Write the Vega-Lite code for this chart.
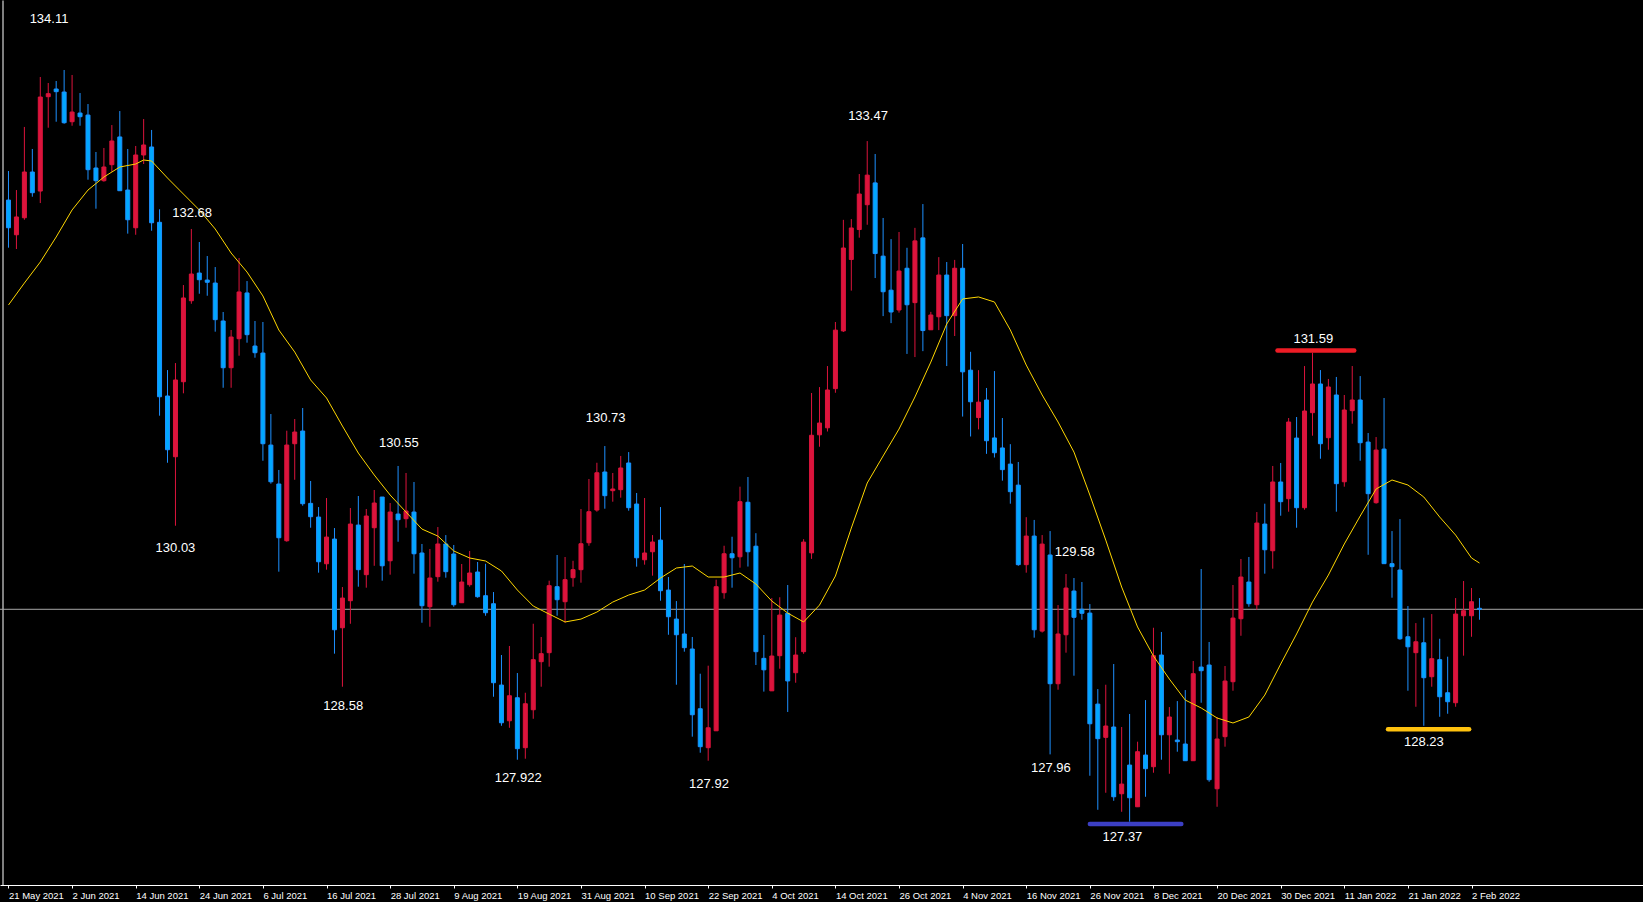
{
"$schema": "https://vega.github.io/schema/vega-lite/v6.json",
"width": 1643, "height": 885,
"autosize": {"type": "none"},
"padding": {"left": 0, "top": 0, "right": 0, "bottom": 17},
"background": "#000000",
"config": {"view": {"stroke": null},
"axisX": {"grid": false, "domainColor": "#FFFFFF", "domainWidth": 1, "tickColor": "#FFFFFF", "tickSize": 3, "tickWidth": 1,
"labelColor": "#FFFFFF", "labelFont": "Liberation Sans", "labelFontSize": 9.5, "labelAlign": "left", "labelBaseline": "top",
"labelPadding": 2, "labelOverlap": false, "labelFlush": false, "labelBound": false},
"axisY": {"labels": false, "ticks": false, "grid": false, "domain": true, "domainColor": "#FFFFFF", "domainWidth": 1}
},
"datasets": {
"candles": [
{"i":0,"d":"2021-05-21","o":132.960,"h":133.221,"l":132.532,"c":132.711},
{"i":1,"d":"2021-05-24","o":132.648,"h":133.050,"l":132.520,"c":132.808},
{"i":2,"d":"2021-05-25","o":132.801,"h":133.617,"l":132.783,"c":133.212},
{"i":3,"d":"2021-05-26","o":133.212,"h":133.419,"l":132.990,"c":133.026},
{"i":4,"d":"2021-05-27","o":133.041,"h":134.066,"l":132.933,"c":133.886},
{"i":5,"d":"2021-05-28","o":133.889,"h":134.012,"l":133.610,"c":133.916},
{"i":6,"d":"2021-05-31","o":133.958,"h":134.030,"l":133.664,"c":133.934},
{"i":7,"d":"2021-06-01","o":133.931,"h":134.129,"l":133.646,"c":133.655},
{"i":8,"d":"2021-06-02","o":133.664,"h":134.084,"l":133.628,"c":133.751},
{"i":9,"d":"2021-06-03","o":133.742,"h":133.922,"l":133.628,"c":133.709},
{"i":10,"d":"2021-06-04","o":133.724,"h":133.823,"l":133.143,"c":133.233},
{"i":11,"d":"2021-06-07","o":133.248,"h":133.392,"l":132.882,"c":133.134},
{"i":12,"d":"2021-06-08","o":133.134,"h":133.428,"l":133.125,"c":133.257},
{"i":13,"d":"2021-06-09","o":133.278,"h":133.634,"l":133.215,"c":133.491},
{"i":14,"d":"2021-06-10","o":133.527,"h":133.760,"l":133.044,"c":133.044},
{"i":15,"d":"2021-06-11","o":133.050,"h":133.419,"l":132.658,"c":132.783},
{"i":16,"d":"2021-06-14","o":132.711,"h":133.446,"l":132.648,"c":133.365},
{"i":17,"d":"2021-06-15","o":133.365,"h":133.688,"l":133.284,"c":133.455},
{"i":18,"d":"2021-06-16","o":133.437,"h":133.590,"l":132.684,"c":132.756},
{"i":19,"d":"2021-06-17","o":132.760,"h":132.877,"l":131.022,"c":131.192},
{"i":20,"d":"2021-06-18","o":131.199,"h":131.432,"l":130.599,"c":130.716},
{"i":21,"d":"2021-06-21","o":130.653,"h":131.495,"l":130.033,"c":131.343},
{"i":22,"d":"2021-06-22","o":131.327,"h":132.196,"l":131.223,"c":132.080},
{"i":23,"d":"2021-06-23","o":132.055,"h":132.700,"l":132.028,"c":132.295},
{"i":24,"d":"2021-06-24","o":132.304,"h":132.583,"l":132.118,"c":132.244},
{"i":25,"d":"2021-06-25","o":132.241,"h":132.457,"l":132.100,"c":132.221},
{"i":26,"d":"2021-06-28","o":132.214,"h":132.358,"l":131.777,"c":131.885},
{"i":27,"d":"2021-06-29","o":131.873,"h":131.954,"l":131.273,"c":131.453},
{"i":28,"d":"2021-06-30","o":131.453,"h":131.792,"l":131.273,"c":131.729},
{"i":29,"d":"2021-07-01","o":131.714,"h":132.439,"l":131.561,"c":132.134},
{"i":30,"d":"2021-07-02","o":132.125,"h":132.232,"l":131.678,"c":131.750},
{"i":31,"d":"2021-07-05","o":131.648,"h":131.873,"l":131.543,"c":131.588},
{"i":32,"d":"2021-07-06","o":131.585,"h":131.864,"l":130.617,"c":130.770},
{"i":33,"d":"2021-07-07","o":130.758,"h":131.037,"l":130.411,"c":130.428},
{"i":34,"d":"2021-07-08","o":130.408,"h":130.534,"l":129.620,"c":129.925},
{"i":35,"d":"2021-07-09","o":129.898,"h":130.887,"l":129.889,"c":130.758},
{"i":36,"d":"2021-07-12","o":130.770,"h":130.992,"l":130.446,"c":130.875},
{"i":37,"d":"2021-07-13","o":130.884,"h":131.091,"l":130.213,"c":130.231},
{"i":38,"d":"2021-07-14","o":130.234,"h":130.435,"l":130.015,"c":130.114},
{"i":39,"d":"2021-07-15","o":130.111,"h":130.201,"l":129.611,"c":129.709},
{"i":40,"d":"2021-07-16","o":129.691,"h":130.282,"l":129.638,"c":129.931},
{"i":41,"d":"2021-07-19","o":129.913,"h":130.012,"l":128.883,"c":129.098},
{"i":42,"d":"2021-07-20","o":129.116,"h":129.482,"l":128.586,"c":129.383},
{"i":43,"d":"2021-07-21","o":129.359,"h":130.192,"l":129.152,"c":130.048},
{"i":44,"d":"2021-07-22","o":130.039,"h":130.300,"l":129.485,"c":129.638},
{"i":45,"d":"2021-07-23","o":129.593,"h":130.183,"l":129.476,"c":130.120},
{"i":46,"d":"2021-07-26","o":130.015,"h":130.354,"l":129.673,"c":130.237},
{"i":47,"d":"2021-07-27","o":130.291,"h":130.291,"l":129.539,"c":129.673},
{"i":48,"d":"2021-07-28","o":129.718,"h":130.237,"l":129.593,"c":130.156},
{"i":49,"d":"2021-07-29","o":130.138,"h":130.570,"l":129.889,"c":130.087},
{"i":50,"d":"2021-07-30","o":130.096,"h":130.507,"l":130.015,"c":130.165},
{"i":51,"d":"2021-08-02","o":130.156,"h":130.426,"l":129.602,"c":129.781},
{"i":52,"d":"2021-08-03","o":129.788,"h":129.869,"l":129.161,"c":129.314},
{"i":53,"d":"2021-08-04","o":129.305,"h":129.824,"l":129.125,"c":129.563},
{"i":54,"d":"2021-08-05","o":129.575,"h":130.021,"l":129.530,"c":129.869},
{"i":55,"d":"2021-08-06","o":129.869,"h":129.949,"l":129.566,"c":129.620},
{"i":56,"d":"2021-08-09","o":129.779,"h":129.860,"l":129.305,"c":129.323},
{"i":57,"d":"2021-08-10","o":129.341,"h":129.689,"l":129.341,"c":129.527},
{"i":58,"d":"2021-08-11","o":129.503,"h":129.806,"l":129.485,"c":129.608},
{"i":59,"d":"2021-08-12","o":129.617,"h":129.707,"l":129.386,"c":129.395},
{"i":60,"d":"2021-08-13","o":129.404,"h":129.691,"l":129.224,"c":129.251},
{"i":61,"d":"2021-08-16","o":129.332,"h":129.437,"l":128.496,"c":128.622},
{"i":62,"d":"2021-08-17","o":128.601,"h":128.871,"l":128.235,"c":128.262},
{"i":63,"d":"2021-08-18","o":128.280,"h":128.952,"l":128.217,"c":128.505},
{"i":64,"d":"2021-08-19","o":128.487,"h":128.709,"l":127.930,"c":128.029},
{"i":65,"d":"2021-08-20","o":128.038,"h":128.532,"l":127.939,"c":128.433},
{"i":66,"d":"2021-08-23","o":128.379,"h":129.152,"l":128.298,"c":128.829},
{"i":67,"d":"2021-08-24","o":128.811,"h":129.033,"l":128.586,"c":128.883},
{"i":68,"d":"2021-08-25","o":128.892,"h":129.539,"l":128.766,"c":129.494},
{"i":69,"d":"2021-08-26","o":129.485,"h":129.770,"l":129.224,"c":129.368},
{"i":70,"d":"2021-08-27","o":129.350,"h":129.752,"l":129.161,"c":129.548},
{"i":71,"d":"2021-08-30","o":129.566,"h":129.718,"l":129.485,"c":129.638},
{"i":72,"d":"2021-08-31","o":129.638,"h":130.183,"l":129.521,"c":129.871},
{"i":73,"d":"2021-09-01","o":129.880,"h":130.453,"l":129.853,"c":130.159},
{"i":74,"d":"2021-09-02","o":130.174,"h":130.599,"l":130.159,"c":130.509},
{"i":75,"d":"2021-09-03","o":130.516,"h":130.749,"l":130.186,"c":130.303},
{"i":76,"d":"2021-09-06","o":130.348,"h":130.507,"l":130.249,"c":130.363},
{"i":77,"d":"2021-09-07","o":130.357,"h":130.660,"l":130.285,"c":130.552},
{"i":78,"d":"2021-09-08","o":130.597,"h":130.695,"l":130.168,"c":130.195},
{"i":79,"d":"2021-09-09","o":130.228,"h":130.327,"l":129.665,"c":129.745},
{"i":80,"d":"2021-09-10","o":129.727,"h":130.282,"l":129.683,"c":129.788},
{"i":81,"d":"2021-09-13","o":129.799,"h":129.949,"l":129.584,"c":129.887},
{"i":82,"d":"2021-09-14","o":129.904,"h":130.201,"l":129.359,"c":129.449},
{"i":83,"d":"2021-09-15","o":129.455,"h":129.572,"l":129.053,"c":129.215},
{"i":84,"d":"2021-09-16","o":129.194,"h":129.356,"l":128.604,"c":129.053},
{"i":85,"d":"2021-09-17","o":129.060,"h":129.689,"l":128.901,"c":128.937},
{"i":86,"d":"2021-09-20","o":128.925,"h":129.033,"l":128.137,"c":128.334},
{"i":87,"d":"2021-09-21","o":128.388,"h":128.703,"l":127.993,"c":128.047},
{"i":88,"d":"2021-09-22","o":128.038,"h":128.775,"l":127.921,"c":128.217},
{"i":89,"d":"2021-09-23","o":128.190,"h":129.548,"l":128.190,"c":129.485},
{"i":90,"d":"2021-09-24","o":129.431,"h":129.853,"l":129.377,"c":129.781},
{"i":91,"d":"2021-09-27","o":129.781,"h":129.934,"l":129.476,"c":129.745},
{"i":92,"d":"2021-09-28","o":129.754,"h":130.384,"l":129.656,"c":130.249},
{"i":93,"d":"2021-09-29","o":130.244,"h":130.471,"l":129.666,"c":129.799},
{"i":94,"d":"2021-09-30","o":129.849,"h":129.966,"l":128.781,"c":128.901},
{"i":95,"d":"2021-10-01","o":128.841,"h":129.051,"l":128.542,"c":128.738},
{"i":96,"d":"2021-10-04","o":128.549,"h":129.383,"l":128.549,"c":128.862},
{"i":97,"d":"2021-10-05","o":128.865,"h":129.390,"l":128.748,"c":129.230},
{"i":98,"d":"2021-10-06","o":129.246,"h":129.500,"l":128.359,"c":128.638},
{"i":99,"d":"2021-10-07","o":128.712,"h":129.031,"l":128.622,"c":128.871},
{"i":100,"d":"2021-10-08","o":128.901,"h":129.912,"l":128.882,"c":129.886},
{"i":101,"d":"2021-10-11","o":129.789,"h":131.226,"l":129.735,"c":130.846},
{"i":102,"d":"2021-10-12","o":130.850,"h":131.279,"l":130.743,"c":130.956},
{"i":103,"d":"2021-10-13","o":130.913,"h":131.468,"l":130.880,"c":131.253},
{"i":104,"d":"2021-10-14","o":131.265,"h":131.864,"l":131.228,"c":131.791},
{"i":105,"d":"2021-10-15","o":131.784,"h":132.782,"l":131.774,"c":132.529},
{"i":106,"d":"2021-10-18","o":132.426,"h":132.789,"l":132.146,"c":132.709},
{"i":107,"d":"2021-10-19","o":132.695,"h":133.194,"l":132.622,"c":133.014},
{"i":108,"d":"2021-10-20","o":132.918,"h":133.490,"l":132.738,"c":133.184},
{"i":109,"d":"2021-10-21","o":133.114,"h":133.374,"l":132.259,"c":132.479},
{"i":110,"d":"2021-10-22","o":132.456,"h":132.799,"l":131.917,"c":132.136},
{"i":111,"d":"2021-10-25","o":132.150,"h":132.609,"l":131.854,"c":131.954},
{"i":112,"d":"2021-10-26","o":131.972,"h":132.673,"l":131.948,"c":132.322},
{"i":113,"d":"2021-10-27","o":132.347,"h":132.531,"l":131.577,"c":132.019},
{"i":114,"d":"2021-10-28","o":132.038,"h":132.710,"l":131.549,"c":132.593},
{"i":115,"d":"2021-10-29","o":132.620,"h":132.924,"l":131.602,"c":131.787},
{"i":116,"d":"2021-10-31","o":131.794,"h":131.955,"l":131.794,"c":131.927},
{"i":117,"d":"2021-11-01","o":131.911,"h":132.447,"l":131.791,"c":132.286},
{"i":118,"d":"2021-11-02","o":132.286,"h":132.403,"l":131.468,"c":131.921},
{"i":119,"d":"2021-11-03","o":131.921,"h":132.422,"l":131.738,"c":132.347},
{"i":120,"d":"2021-11-04","o":132.347,"h":132.565,"l":131.014,"c":131.416},
{"i":121,"d":"2021-11-05","o":131.431,"h":131.596,"l":130.835,"c":131.147},
{"i":122,"d":"2021-11-08","o":131.005,"h":131.431,"l":130.899,"c":131.144},
{"i":123,"d":"2021-11-09","o":131.163,"h":131.271,"l":130.679,"c":130.797},
{"i":124,"d":"2021-11-10","o":130.822,"h":131.423,"l":130.646,"c":130.689},
{"i":125,"d":"2021-11-11","o":130.732,"h":131.001,"l":130.438,"c":130.537},
{"i":126,"d":"2021-11-12","o":130.587,"h":130.766,"l":130.231,"c":130.339},
{"i":127,"d":"2021-11-15","o":130.398,"h":130.606,"l":129.673,"c":129.683},
{"i":128,"d":"2021-11-16","o":129.683,"h":130.110,"l":129.611,"c":129.940},
{"i":129,"d":"2021-11-17","o":129.940,"h":130.085,"l":129.027,"c":129.098},
{"i":130,"d":"2021-11-18","o":129.086,"h":129.949,"l":129.073,"c":129.868},
{"i":131,"d":"2021-11-19","o":129.770,"h":129.985,"l":127.978,"c":128.613},
{"i":132,"d":"2021-11-22","o":128.613,"h":129.320,"l":128.559,"c":129.060},
{"i":133,"d":"2021-11-23","o":129.053,"h":129.599,"l":128.892,"c":129.473},
{"i":134,"d":"2021-11-24","o":129.446,"h":129.563,"l":128.685,"c":129.210},
{"i":135,"d":"2021-11-25","o":129.282,"h":129.527,"l":129.188,"c":129.246},
{"i":136,"d":"2021-11-26","o":129.248,"h":129.329,"l":127.786,"c":128.253},
{"i":137,"d":"2021-11-29","o":128.430,"h":128.565,"l":127.480,"c":128.119},
{"i":138,"d":"2021-11-30","o":128.131,"h":128.604,"l":127.633,"c":128.233},
{"i":139,"d":"2021-12-01","o":128.224,"h":128.790,"l":127.561,"c":127.597},
{"i":140,"d":"2021-12-02","o":127.624,"h":128.224,"l":127.462,"c":127.711},
{"i":141,"d":"2021-12-03","o":127.882,"h":128.341,"l":127.373,"c":127.588},
{"i":142,"d":"2021-12-06","o":127.507,"h":128.092,"l":127.507,"c":128.002},
{"i":143,"d":"2021-12-07","o":127.972,"h":128.466,"l":127.597,"c":127.849},
{"i":144,"d":"2021-12-08","o":127.867,"h":129.116,"l":127.813,"c":128.865},
{"i":145,"d":"2021-12-09","o":128.871,"h":129.078,"l":127.930,"c":128.154},
{"i":146,"d":"2021-12-10","o":128.154,"h":128.403,"l":127.804,"c":128.314},
{"i":147,"d":"2021-12-13","o":128.107,"h":128.457,"l":128.002,"c":128.092},
{"i":148,"d":"2021-12-14","o":128.071,"h":128.556,"l":127.921,"c":127.921},
{"i":149,"d":"2021-12-15","o":127.921,"h":128.817,"l":127.921,"c":128.703},
{"i":150,"d":"2021-12-16","o":128.763,"h":129.644,"l":128.442,"c":128.730},
{"i":151,"d":"2021-12-17","o":128.781,"h":128.988,"l":127.732,"c":127.750},
{"i":152,"d":"2021-12-20","o":127.669,"h":128.314,"l":127.507,"c":128.116},
{"i":153,"d":"2021-12-21","o":128.137,"h":128.772,"l":128.047,"c":128.637},
{"i":154,"d":"2021-12-22","o":128.631,"h":129.500,"l":128.550,"c":129.203},
{"i":155,"d":"2021-12-23","o":129.197,"h":129.734,"l":129.044,"c":129.572},
{"i":156,"d":"2021-12-24","o":129.527,"h":129.752,"l":129.305,"c":129.332},
{"i":157,"d":"2021-12-27","o":129.323,"h":130.156,"l":129.278,"c":130.057},
{"i":158,"d":"2021-12-28","o":130.048,"h":130.231,"l":129.602,"c":129.817},
{"i":159,"d":"2021-12-29","o":129.808,"h":130.570,"l":129.647,"c":130.426},
{"i":160,"d":"2021-12-30","o":130.426,"h":130.597,"l":130.123,"c":130.249},
{"i":161,"d":"2021-12-31","o":130.276,"h":131.001,"l":130.159,"c":130.965},
{"i":162,"d":"2022-01-03","o":130.821,"h":131.010,"l":130.015,"c":130.195},
{"i":163,"d":"2022-01-04","o":130.195,"h":131.468,"l":130.177,"c":131.064},
{"i":164,"d":"2022-01-05","o":131.049,"h":131.588,"l":130.842,"c":131.307},
{"i":165,"d":"2022-01-06","o":131.307,"h":131.432,"l":130.635,"c":130.770},
{"i":166,"d":"2022-01-07","o":130.824,"h":131.352,"l":130.716,"c":131.280},
{"i":167,"d":"2022-01-10","o":131.208,"h":131.370,"l":130.159,"c":130.411},
{"i":168,"d":"2022-01-11","o":130.428,"h":131.208,"l":130.384,"c":131.073},
{"i":169,"d":"2022-01-12","o":131.067,"h":131.468,"l":130.950,"c":131.163},
{"i":170,"d":"2022-01-13","o":131.163,"h":131.378,"l":130.617,"c":130.779},
{"i":171,"d":"2022-01-14","o":130.785,"h":130.866,"l":129.772,"c":130.321},
{"i":172,"d":"2022-01-17","o":130.240,"h":130.830,"l":130.231,"c":130.713},
{"i":173,"d":"2022-01-18","o":130.722,"h":131.181,"l":129.692,"c":129.692},
{"i":174,"d":"2022-01-19","o":129.692,"h":129.985,"l":129.386,"c":129.665},
{"i":175,"d":"2022-01-20","o":129.635,"h":130.093,"l":129.008,"c":129.017},
{"i":176,"d":"2022-01-21","o":129.035,"h":129.311,"l":128.550,"c":128.945},
{"i":177,"d":"2022-01-24","o":128.892,"h":129.158,"l":128.406,"c":128.990},
{"i":178,"d":"2022-01-25","o":128.981,"h":129.206,"l":128.235,"c":128.667},
{"i":179,"d":"2022-01-26","o":128.676,"h":129.239,"l":128.586,"c":128.838},
{"i":180,"d":"2022-01-27","o":128.829,"h":129.017,"l":128.316,"c":128.496},
{"i":181,"d":"2022-01-28","o":128.532,"h":128.856,"l":128.343,"c":128.451},
{"i":182,"d":"2022-01-31","o":128.442,"h":129.383,"l":128.406,"c":129.239},
{"i":183,"d":"2022-02-01","o":129.224,"h":129.536,"l":128.865,"c":129.269},
{"i":184,"d":"2022-02-02","o":129.224,"h":129.473,"l":129.035,"c":129.350},
{"i":185,"d":"2022-02-03","o":129.291,"h":129.383,"l":129.188,"c":129.282}
],
"ma": [
{"i":0,"ma":132.017},{"i":2,"ma":132.214},{"i":4,"ma":132.403},{"i":6,"ma":132.628},{"i":8,"ma":132.871},
{"i":10,"ma":133.050},{"i":12,"ma":133.167},{"i":14,"ma":133.257},{"i":16,"ma":133.284},{"i":17,"ma":133.320},
{"i":18,"ma":133.311},{"i":20,"ma":133.158},{"i":22,"ma":133.014},{"i":24,"ma":132.871},{"i":26,"ma":132.700},
{"i":28,"ma":132.484},{"i":30,"ma":132.313},{"i":32,"ma":132.098},{"i":34,"ma":131.792},{"i":36,"ma":131.594},
{"i":38,"ma":131.343},{"i":40,"ma":131.181},{"i":42,"ma":130.929},{"i":44,"ma":130.686},{"i":46,"ma":130.489},
{"i":48,"ma":130.309},{"i":50,"ma":130.156},{"i":52,"ma":130.003},{"i":54,"ma":129.940},{"i":56,"ma":129.806},
{"i":58,"ma":129.743},{"i":60,"ma":129.716},{"i":62,"ma":129.626},{"i":64,"ma":129.455},{"i":66,"ma":129.311},
{"i":68,"ma":129.239},{"i":70,"ma":129.168},{"i":72,"ma":129.194},{"i":74,"ma":129.257},{"i":76,"ma":129.347},
{"i":78,"ma":129.410},{"i":80,"ma":129.455},{"i":82,"ma":129.563},{"i":84,"ma":129.653},{"i":86,"ma":129.671},
{"i":88,"ma":129.572},{"i":90,"ma":129.572},{"i":92,"ma":129.608},{"i":94,"ma":129.509},{"i":96,"ma":129.356},
{"i":98,"ma":129.248},{"i":100,"ma":129.168},{"i":102,"ma":129.320},{"i":104,"ma":129.581},{"i":106,"ma":130.012},
{"i":108,"ma":130.417},{"i":110,"ma":130.660},{"i":112,"ma":130.902},{"i":114,"ma":131.190},{"i":116,"ma":131.504},
{"i":118,"ma":131.846},{"i":120,"ma":132.071},{"i":122,"ma":132.089},{"i":124,"ma":132.044},{"i":126,"ma":131.792},
{"i":128,"ma":131.477},{"i":130,"ma":131.208},{"i":132,"ma":130.965},{"i":134,"ma":130.695},{"i":136,"ma":130.309},
{"i":138,"ma":129.904},{"i":140,"ma":129.482},{"i":142,"ma":129.123},{"i":144,"ma":128.862},{"i":146,"ma":128.655},
{"i":148,"ma":128.466},{"i":150,"ma":128.395},{"i":152,"ma":128.305},{"i":154,"ma":128.260},{"i":156,"ma":128.314},
{"i":158,"ma":128.511},{"i":160,"ma":128.790},{"i":162,"ma":129.060},{"i":164,"ma":129.347},{"i":166,"ma":129.590},
{"i":168,"ma":129.869},{"i":170,"ma":130.120},{"i":172,"ma":130.363},{"i":174,"ma":130.444},{"i":176,"ma":130.399},
{"i":178,"ma":130.291},{"i":180,"ma":130.111},{"i":182,"ma":129.949},{"i":184,"ma":129.743},{"i":185,"ma":129.698}
],
"levels": [
{"kind":"high","from":159.6,"to":169.25,"p":131.608},
{"kind":"low","from":136.0,"to":147.5,"p":127.352},
{"kind":"recentlow","from":173.5,"to":183.7,"p":128.203}
],
"labels": [
{"i":5.1,"p":134.587,"t":"134.11"},
{"i":23.1,"p":132.844,"t":"132.68"},
{"i":21.0,"p":129.833,"t":"130.03"},
{"i":49.1,"p":130.779,"t":"130.55"},
{"i":42.1,"p":128.413,"t":"128.58"},
{"i":75.1,"p":131.001,"t":"130.73"},
{"i":64.1,"p":127.765,"t":"127.922"},
{"i":88.1,"p":127.711,"t":"127.92"},
{"i":108.1,"p":133.713,"t":"133.47"},
{"i":134.1,"p":129.797,"t":"129.58"},
{"i":131.1,"p":127.855,"t":"127.96"},
{"i":140.1,"p":127.235,"t":"127.37"},
{"i":164.1,"p":131.711,"t":"131.59"},
{"i":178.0,"p":128.089,"t":"128.23"}
]
},
"layer": [
{
"data": {"name": "candles"},
"transform": [{"filter": "datum.i == 185"}],
"mark": {"type": "rule", "color": "#A8A8A8", "strokeWidth": 1},
"encoding": {
"y": {"field": "c", "type": "quantitative", "scale": {"domain": [126.804, 134.758], "nice": false, "zero": false}, "axis": {"title": null, "offset": -2.5}}
}
},
{
"data": {"name": "candles"},
"mark": {"type": "rule", "strokeWidth": 1},
"encoding": {
"x": {"field": "i", "type": "quantitative",
"scale": {"domain": [-0.4375, 204.9375], "nice": false, "zero": false},
"axis": {"title": null, "values": [0,8,16,24,32,40,48,56,64,72,80,88,96,104,112,120,128,136,144,152,160,168,176,184],
"labelExpr": "['21 May 2021','2 Jun 2021','14 Jun 2021','24 Jun 2021','6 Jul 2021','16 Jul 2021','28 Jul 2021','9 Aug 2021','19 Aug 2021','31 Aug 2021','10 Sep 2021','22 Sep 2021','4 Oct 2021','14 Oct 2021','26 Oct 2021','4 Nov 2021','16 Nov 2021','26 Nov 2021','8 Dec 2021','20 Dec 2021','30 Dec 2021','11 Jan 2022','21 Jan 2022','2 Feb 2022'][datum.value/8]"}},
"y": {"field": "l", "type": "quantitative", "scale": {"domain": [126.804, 134.758], "nice": false, "zero": false}, "axis": {"title": null, "offset": -2.5}},
"y2": {"field": "h"},
"color": {"condition": {"test": "datum.c >= datum.o", "value": "#DC143C"}, "value": "#1E90FF"}
}
},
{
"data": {"name": "candles"},
"mark": {"type": "bar", "size": 4, "strokeWidth": 1, "orient": "vertical"},
"encoding": {
"x": {"field": "i", "type": "quantitative", "scale": {"domain": [-0.4375, 204.9375], "nice": false, "zero": false},
"axis": {"title": null, "values": [0,8,16,24,32,40,48,56,64,72,80,88,96,104,112,120,128,136,144,152,160,168,176,184],
"labelExpr": "['21 May 2021','2 Jun 2021','14 Jun 2021','24 Jun 2021','6 Jul 2021','16 Jul 2021','28 Jul 2021','9 Aug 2021','19 Aug 2021','31 Aug 2021','10 Sep 2021','22 Sep 2021','4 Oct 2021','14 Oct 2021','26 Oct 2021','4 Nov 2021','16 Nov 2021','26 Nov 2021','8 Dec 2021','20 Dec 2021','30 Dec 2021','11 Jan 2022','21 Jan 2022','2 Feb 2022'][datum.value/8]"}},
"y": {"field": "o", "type": "quantitative", "scale": {"domain": [126.804, 134.758], "nice": false, "zero": false}, "axis": {"title": null, "offset": -2.5}},
"y2": {"field": "c"},
"fill": {"condition": {"test": "datum.c >= datum.o", "value": "#DC143C"}, "value": "#00A8FF"},
"stroke": {"condition": {"test": "datum.c >= datum.o", "value": "#DC143C"}, "value": "#1E90FF"}
}
},
{
"data": {"name": "ma"},
"mark": {"type": "line", "color": "#FFD700", "strokeWidth": 1},
"encoding": {
"x": {"field": "i", "type": "quantitative", "scale": {"domain": [-0.4375, 204.9375], "nice": false, "zero": false},
"axis": {"title": null, "values": [0,8,16,24,32,40,48,56,64,72,80,88,96,104,112,120,128,136,144,152,160,168,176,184],
"labelExpr": "['21 May 2021','2 Jun 2021','14 Jun 2021','24 Jun 2021','6 Jul 2021','16 Jul 2021','28 Jul 2021','9 Aug 2021','19 Aug 2021','31 Aug 2021','10 Sep 2021','22 Sep 2021','4 Oct 2021','14 Oct 2021','26 Oct 2021','4 Nov 2021','16 Nov 2021','26 Nov 2021','8 Dec 2021','20 Dec 2021','30 Dec 2021','11 Jan 2022','21 Jan 2022','2 Feb 2022'][datum.value/8]"}},
"y": {"field": "ma", "type": "quantitative", "scale": {"domain": [126.804, 134.758], "nice": false, "zero": false}, "axis": {"title": null, "offset": -2.5}}
}
},
{
"data": {"name": "levels"},
"mark": {"type": "rule", "strokeWidth": 4.5, "strokeCap": "round"},
"encoding": {
"x": {"field": "from", "type": "quantitative", "scale": {"domain": [-0.4375, 204.9375], "nice": false, "zero": false},
"axis": {"title": null, "values": [0,8,16,24,32,40,48,56,64,72,80,88,96,104,112,120,128,136,144,152,160,168,176,184],
"labelExpr": "['21 May 2021','2 Jun 2021','14 Jun 2021','24 Jun 2021','6 Jul 2021','16 Jul 2021','28 Jul 2021','9 Aug 2021','19 Aug 2021','31 Aug 2021','10 Sep 2021','22 Sep 2021','4 Oct 2021','14 Oct 2021','26 Oct 2021','4 Nov 2021','16 Nov 2021','26 Nov 2021','8 Dec 2021','20 Dec 2021','30 Dec 2021','11 Jan 2022','21 Jan 2022','2 Feb 2022'][datum.value/8]"}},
"x2": {"field": "to"},
"y": {"field": "p", "type": "quantitative", "scale": {"domain": [126.804, 134.758], "nice": false, "zero": false}, "axis": {"title": null, "offset": -2.5}},
"color": {"field": "kind", "type": "nominal", "scale": {"domain": ["high", "low", "recentlow"], "range": ["#EE1C25", "#3C3FC4", "#FFC20E"]}, "legend": null}
}
},
{
"data": {"name": "labels"},
"mark": {"type": "text", "color": "#FFFFFF", "font": "Liberation Sans", "fontSize": 13, "align": "center", "baseline": "middle"},
"encoding": {
"x": {"field": "i", "type": "quantitative", "scale": {"domain": [-0.4375, 204.9375], "nice": false, "zero": false},
"axis": {"title": null, "values": [0,8,16,24,32,40,48,56,64,72,80,88,96,104,112,120,128,136,144,152,160,168,176,184],
"labelExpr": "['21 May 2021','2 Jun 2021','14 Jun 2021','24 Jun 2021','6 Jul 2021','16 Jul 2021','28 Jul 2021','9 Aug 2021','19 Aug 2021','31 Aug 2021','10 Sep 2021','22 Sep 2021','4 Oct 2021','14 Oct 2021','26 Oct 2021','4 Nov 2021','16 Nov 2021','26 Nov 2021','8 Dec 2021','20 Dec 2021','30 Dec 2021','11 Jan 2022','21 Jan 2022','2 Feb 2022'][datum.value/8]"}},
"y": {"field": "p", "type": "quantitative", "scale": {"domain": [126.804, 134.758], "nice": false, "zero": false}, "axis": {"title": null, "offset": -2.5}},
"text": {"field": "t"}
}
}
]
}
